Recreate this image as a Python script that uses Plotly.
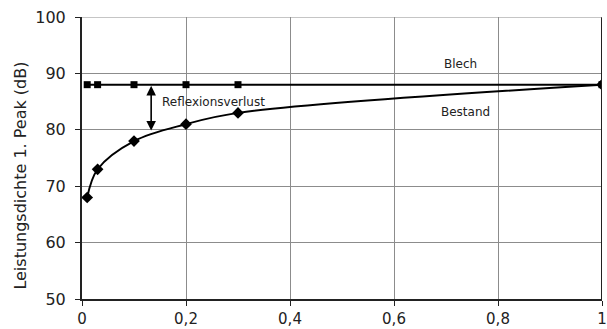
import plotly.graph_objects as go

x_vals = [0.01, 0.03, 0.1, 0.2, 0.3, 1.0]
blech = [88, 88, 88, 88, 88, 88]
bestand = [68, 73, 78, 81, 83, 88]
x_ticks = [0, 0.2, 0.4, 0.6, 0.8, 1]
y_ticks = [50, 60, 70, 80, 90, 100]

FONT = "DejaVu Sans"
TXT = "#222"

fig = go.Figure()
fig.add_trace(go.Scatter(x=x_vals, y=blech, mode="lines+markers", name="Blech",
                         line=dict(color="black", width=2),
                         marker=dict(symbol="square", size=7, color="black")))
fig.add_trace(go.Scatter(x=x_vals, y=bestand, mode="lines+markers", name="Bestand",
                         line=dict(color="black", width=2, shape="spline", smoothing=1),
                         marker=dict(symbol="diamond", size=9, color="black")))

fig.add_annotation(x=0.133, y=87.8, ax=0.133, ay=79.6, axref="x", ayref="y",
                   xref="x", yref="y", text="", showarrow=True,
                   arrowhead=2, arrowside="end+start", arrowsize=1.2, arrowwidth=1.6,
                   arrowcolor="black")
fig.add_annotation(x=0.15, y=84.9, text="Reflexionsverlust", showarrow=False,
                   xanchor="left", yanchor="middle",
                   font=dict(family=FONT, size=12, color=TXT))
fig.add_annotation(x=0.727, y=91.7, text="Blech", showarrow=False,
                   font=dict(family=FONT, size=12, color=TXT))
fig.add_annotation(x=0.738, y=83.1, text="Bestand", showarrow=False,
                   font=dict(family=FONT, size=12, color=TXT))
fig.add_annotation(xref="paper", yref="paper", x=-0.119, y=0.438,
                   text="Leistungsdichte 1. Peak (dB)", textangle=-90, showarrow=False,
                   xanchor="center", yanchor="middle",
                   font=dict(family=FONT, size=16, color=TXT))

axis_common = dict(showgrid=True, gridcolor="#8c8c8c", gridwidth=1,
                   showline=True, linecolor="#222", linewidth=2,
                   ticks="outside", ticklen=5, tickcolor="#222",
                   zeroline=False, automargin=False, ticklabeloverflow="allow")

fig.update_layout(
    width=607, height=329,
    margin=dict(l=82, r=5, t=17, b=30),
    paper_bgcolor="white", plot_bgcolor="white",
    showlegend=False,
    separators=", ",
    xaxis=dict(range=[0, 1], tickvals=x_ticks, ticklabelstandoff=0,
               tickfont=dict(family=FONT, size=15, color=TXT), **axis_common),
    yaxis=dict(range=[50, 100], tickvals=y_ticks, ticklabelstandoff=6,
               tickfont=dict(family=FONT, size=16, color=TXT), **axis_common),
    shapes=[
        dict(type="line", xref="x", yref="y", x0=1, x1=1, y0=50, y1=100,
             line=dict(color="#222", width=2)),
        dict(type="line", xref="x", yref="y", x0=0, x1=1, y0=100, y1=100,
             line=dict(color="#8c8c8c", width=1)),
    ],
)

fig.write_html("out.html")
